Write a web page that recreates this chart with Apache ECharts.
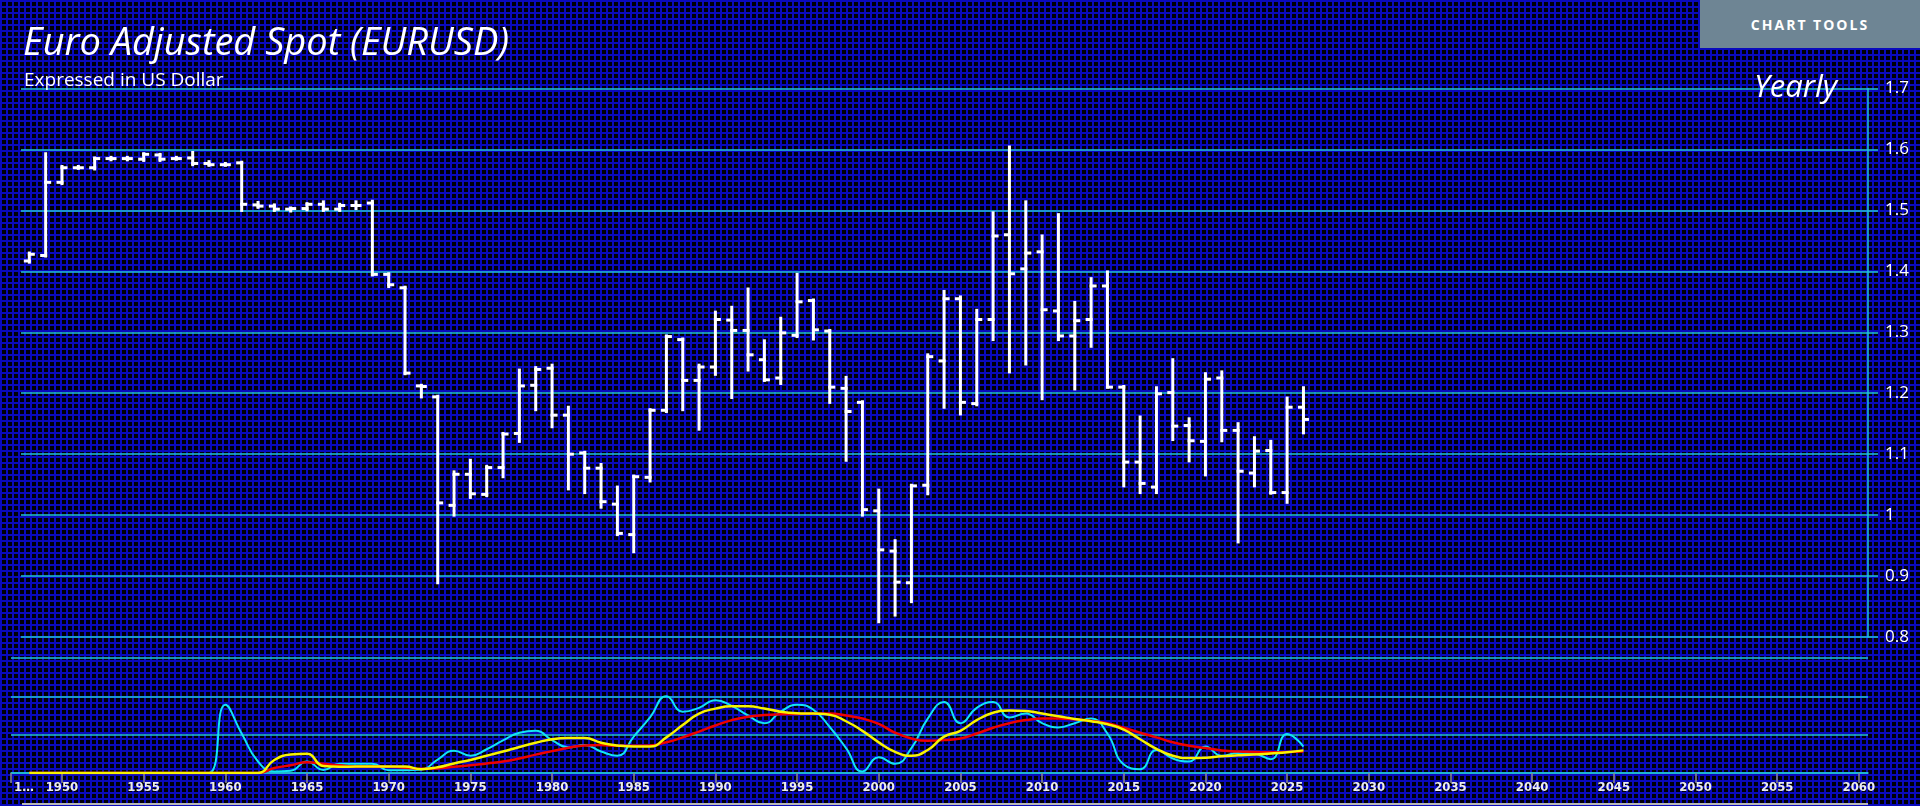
<!DOCTYPE html>
<html>
<head>
<meta charset="utf-8">
<script src="https://cdn.jsdelivr.net/npm/echarts@6/dist/echarts.min.js"></script>
<style>
html,body{margin:0;padding:0;width:1920px;height:806px;overflow:hidden;}
body{
  background-color:#000006;
  background-image:linear-gradient(to right,#0a0abc 2px,transparent 2px),linear-gradient(to bottom,#0a0abc 2px,transparent 2px);
  background-size:6px 6px;
}
#chart{position:absolute;left:0;top:0;width:1920px;height:806px;}
#tools{position:absolute;left:1700px;top:0;width:220px;height:48px;background:#6e8594;color:#fff;
  font:700 14px 'Open Sans',Lato,sans-serif;letter-spacing:2px;display:flex;align-items:center;justify-content:center;}
</style>
</head>
<body>
<div id="chart"></div>
<div id="tools">CHART TOOLS</div>
<script>
const years = [1948,1949,1950,1951,1952,1953,1954,1955,1956,1957,1958,1959,1960,1961,1962,1963,1964,1965,1966,1967,1968,1969,
  1970,1971,1972,1973,1974,1975,1976,1977,1978,1979,1980,1981,1982,1983,1984,1985,1986,1987,1988,1989,
  1990,1991,1992,1993,1994,1995,1996,1997,1998,1999,2000,2001,2002,2003,2004,2005,2006,2007,2008,2009,
  2010,2011,2012,2013,2014,2015,2016,2017,2018,2019,2020,2021,2022,2023,2024,2025,2026];

const openV = [1.417,1.426,1.546,1.570,1.570,1.585,1.585,1.584,1.591,1.585,1.586,1.577,1.575,1.578,1.509,1.507,1.502,1.503,1.510,1.502,1.508,1.512,
  1.395,1.373,1.212,1.194,1.016,1.067,1.034,1.078,1.134,1.213,1.241,1.164,1.102,1.077,1.018,0.968,1.062,1.172,1.288,1.221,
  1.243,1.320,1.303,1.255,1.225,1.295,1.352,1.302,1.208,1.185,1.007,0.941,0.889,1.049,1.253,1.355,1.183,1.321,1.460,1.404,
  1.432,1.335,1.294,1.321,1.376,1.210,1.087,1.046,1.201,1.147,1.121,1.225,1.139,1.069,1.106,1.037,1.177];

const closeV = [1.428,1.546,1.570,1.570,1.585,1.585,1.585,1.592,1.584,1.585,1.577,1.575,1.575,1.510,1.507,1.502,1.503,1.510,1.502,1.508,1.508,1.395,
  1.378,1.233,1.211,1.020,1.067,1.035,1.078,1.133,1.212,1.239,1.164,1.100,1.077,1.022,0.970,1.063,1.172,1.293,1.221,1.243,
  1.321,1.303,1.263,1.222,1.299,1.350,1.304,1.210,1.170,1.009,0.943,0.890,1.048,1.260,1.355,1.185,1.321,1.458,1.396,1.430,
  1.337,1.294,1.319,1.376,1.210,1.087,1.052,1.199,1.146,1.122,1.223,1.139,1.072,1.105,1.037,1.177,1.157];

const lowV = [1.415,1.425,1.544,1.569,1.568,1.583,1.583,1.582,1.582,1.584,1.575,1.574,1.574,1.500,1.505,1.500,1.499,1.501,1.500,1.500,1.503,1.394,
  1.375,1.232,1.194,0.889,1.000,1.029,1.032,1.063,1.121,1.173,1.145,1.043,1.037,1.013,0.968,0.940,1.056,1.170,1.173,1.141,
  1.231,1.193,1.238,1.221,1.216,1.293,1.289,1.185,1.090,1.000,0.825,0.836,0.858,1.035,1.177,1.166,1.181,1.288,1.235,1.248,
  1.191,1.288,1.207,1.277,1.210,1.048,1.037,1.037,1.124,1.089,1.066,1.122,0.956,1.048,1.036,1.021,1.135];

const highV = [1.430,1.593,1.572,1.572,1.586,1.587,1.587,1.593,1.592,1.587,1.595,1.580,1.577,1.579,1.513,1.509,1.504,1.511,1.514,1.510,1.514,1.515,
  1.396,1.374,1.213,1.195,1.071,1.090,1.080,1.134,1.238,1.242,1.246,1.177,1.103,1.083,1.046,1.064,1.173,1.294,1.289,1.246,
  1.333,1.341,1.371,1.286,1.323,1.395,1.353,1.303,1.226,1.186,1.041,0.958,1.049,1.263,1.367,1.358,1.336,1.496,1.604,1.514,
  1.458,1.493,1.349,1.388,1.399,1.211,1.161,1.209,1.255,1.158,1.232,1.235,1.150,1.127,1.121,1.192,1.209];

const cyanV = [0,0,0,0,0,0,0,0,0,0,0,0,1.78,1.03,0.30,0.04,0.06,0.30,0.08,0.24,0.24,0.24,
  0.07,0.07,0.09,0.35,0.58,0.45,0.62,0.85,1.05,1.10,0.86,0.67,0.73,0.56,0.45,0.95,1.45,2.00,1.60,1.70,
  1.90,1.75,1.50,1.30,1.60,1.78,1.65,1.20,0.65,0.04,0.41,0.24,0.65,1.42,1.85,1.30,1.70,1.85,1.45,1.55,
  1.30,1.19,1.30,1.42,1.03,0.22,0.10,0.60,0.38,0.30,0.69,0.45,0.52,0.50,0.36,1.02,0.69];

const yellowV = [0,0,0,0,0,0,0,0,0,0,0,0,0,0,0,0.34,0.48,0.50,0.18,0.16,0.17,0.17,
  0.17,0.17,0.10,0.15,0.25,0.34,0.45,0.56,0.68,0.79,0.88,0.91,0.91,0.79,0.72,0.69,0.69,0.93,1.25,1.55,
  1.68,1.74,1.74,1.68,1.60,1.56,1.55,1.52,1.35,1.10,0.80,0.55,0.45,0.60,0.95,1.10,1.38,1.57,1.63,1.62,
  1.55,1.48,1.41,1.35,1.27,1.13,0.88,0.63,0.45,0.39,0.40,0.44,0.46,0.48,0.51,0.54,0.59];

const redV = [0,0,0,0,0,0,0,0,0,0,0,0,0,0,0,0.13,0.20,0.28,0.24,0.20,0.17,0.17,
  0.16,0.14,0.11,0.12,0.16,0.20,0.25,0.30,0.38,0.48,0.57,0.66,0.72,0.73,0.71,0.71,0.72,0.80,0.93,1.08,
  1.24,1.38,1.47,1.51,1.53,1.54,1.55,1.55,1.50,1.42,1.28,1.05,0.90,0.84,0.86,0.90,1.03,1.18,1.30,1.38,
  1.42,1.42,1.40,1.36,1.30,1.18,1.05,0.93,0.80,0.71,0.65,0.59,0.56,0.55,0.54,0.55,0.56];

const priceTicks = [0.8, 0.9, 1.0, 1.1, 1.2, 1.3, 1.4, 1.5, 1.6, 1.7];

const ohlcData = years.map((y, i) => [y, openV[i], closeV[i], lowV[i], highV[i]]);
const pair = arr => years.map((y, i) => [y, arr[i]]);

const GRID_LINE = '#22c4d6';
const TXT_FONT = '"Open Sans", Lato, sans-serif';
const AX_FONT = '"DejaVu Sans Condensed", "Liberation Sans Narrow", "Roboto Condensed", "DejaVu Sans", sans-serif';
const chart = echarts.init(document.getElementById('chart'), null, {renderer: 'canvas'});

chart.setOption({
  backgroundColor: 'transparent',
  animation: false,
  title: [
    {text: 'Euro Adjusted Spot (EURUSD)', left: 18, top: 20,
     textStyle: {color: '#ffffff', fontSize: 38, fontStyle: 'italic', fontWeight: 'normal', fontFamily: TXT_FONT}},
    {text: 'Expressed in US Dollar', left: 19, top: 66,
     textStyle: {color: '#ffffff', fontSize: 19, fontWeight: 'normal', fontFamily: TXT_FONT}},
    {text: 'Yearly', left: 1749, top: 68,
     textStyle: {color: '#ffffff', fontSize: 31, fontStyle: 'italic', fontWeight: 'normal', fontFamily: TXT_FONT}}
  ],
  grid: [
    {left: 21, right: 52, top: 88.5, bottom: 169, outerBoundsMode: 'none', containLabel: false},
    {left: 11, right: 52, top: 658, bottom: 33, outerBoundsMode: 'none', containLabel: false}
  ],
  xAxis: [
    {type: 'value', gridIndex: 0, min: 1947.49, max: 2060.56, show: false},
    {type: 'value', gridIndex: 1, min: 1946.88, max: 2060.56, minInterval: 5, maxInterval: 5, splitNumber: 22,
     axisLine: {show: true, lineStyle: {color: GRID_LINE, width: 1.5}},
     axisTick: {show: true, length: 10, lineStyle: {color: '#8a8a8a', width: 1.5}},
     splitLine: {show: false},
     axisLabel: {
       show: true, showMinLabel: true, showMaxLabel: false, margin: 8,
       color: '#ececec', fontSize: 13, fontWeight: 'bold', fontFamily: AX_FONT,
       formatter: function (v) {
         if (v < 1948) return '{a|1…}';
         if (Math.abs(v % 5) > 1e-6) return '';
         return String(Math.round(v));
       },
       rich: {a: {padding: [0, 0, 0, 26], color: '#ececec', fontSize: 13, fontWeight: 'bold', fontFamily: AX_FONT}}
     }}
  ],
  yAxis: [
    {type: 'value', gridIndex: 0, position: 'right', min: 0.8, max: 1.7, interval: 0.1,
     axisLine: {show: true, lineStyle: {color: GRID_LINE, width: 1.5}},
     axisTick: {show: true, length: 10, lineStyle: {color: GRID_LINE, width: 1.5}},
     axisLabel: {show: true, margin: 17, color: '#ffffff', fontSize: 17, fontFamily: TXT_FONT,
       formatter: function (v) { return String(parseFloat(v.toFixed(1))); }},
     splitLine: {show: true, lineStyle: {color: GRID_LINE, width: 1.5}}},
    {type: 'value', gridIndex: 1, min: 0, max: 3, interval: 1,
     axisLine: {show: false}, axisTick: {show: false}, axisLabel: {show: false},
     splitLine: {show: true, lineStyle: {color: GRID_LINE, width: 1.5}}}
  ],
  graphic: [
    {type: 'rect', shape: {x: 22, y: 803, width: 1846, height: 2}, style: {fill: '#b8b8b8'}, silent: true}
  ],
  series: [
    {
      type: 'custom', name: 'EURUSD', xAxisIndex: 0, yAxisIndex: 0,
      data: ohlcData,
      encode: {x: 0, y: [1, 2, 3, 4]},
      renderItem: function (params, api) {
        const x = api.value(0);
        const o = api.coord([x, api.value(1)]);
        const c = api.coord([x, api.value(2)]);
        const l = api.coord([x, api.value(3)]);
        const h = api.coord([x, api.value(4)]);
        const st = {stroke: '#ffffff', lineWidth: 3, lineCap: 'square'};
        return {
          type: 'group',
          children: [
            {type: 'line', shape: {x1: h[0], y1: h[1], x2: l[0], y2: l[1]}, style: st},
            {type: 'line', shape: {x1: o[0] - 4, y1: o[1], x2: o[0], y2: o[1]}, style: st},
            {type: 'line', shape: {x1: c[0], y1: c[1], x2: c[0] + 4, y2: c[1]}, style: st}
          ]
        };
      }
    },
    {type: 'line', name: 'fast', xAxisIndex: 1, yAxisIndex: 1, data: pair(cyanV), smooth: 0.5,
     showSymbol: false, symbol: 'none', lineStyle: {color: '#12e4f4', width: 2}},
    {type: 'line', name: 'slow', xAxisIndex: 1, yAxisIndex: 1, data: pair(redV), smooth: 0.5,
     showSymbol: false, symbol: 'none', lineStyle: {color: '#f00000', width: 2.5}},
    {type: 'line', name: 'medium', xAxisIndex: 1, yAxisIndex: 1, data: pair(yellowV), smooth: 0.5,
     showSymbol: false, symbol: 'none', lineStyle: {color: '#f8f400', width: 2.5}}
  ]
});
</script>
</body>
</html>
